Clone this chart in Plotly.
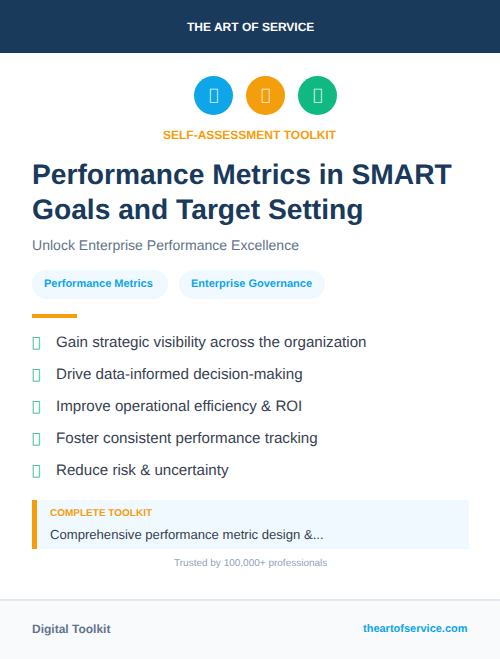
import plotly.graph_objects as go

FONT = 'Liberation Sans'
NAVY = '#1a3a5c'
SKY = '#0ea5e9'
AMBER = '#f59e0b'
GREEN = '#10b981'
SLATE = '#374151'

# texts of the card
brand = 'THE ART OF SERVICE'
kicker = 'SELF-ASSESSMENT TOOLKIT'
title_lines = ['Performance Metrics in SMART', 'Goals and Target Setting']
subtitle = 'Unlock Enterprise Performance Excellence'
tags = ['Performance Metrics', 'Enterprise Governance']
benefits = ['Gain strategic visibility across the organization',
            'Drive data-informed decision-making',
            'Improve operational efficiency & ROI',
            'Foster consistent performance tracking',
            'Reduce risk & uncertainty']
box_label = 'COMPLETE TOOLKIT'
box_text = 'Comprehensive performance metric design &...'
trusted = 'Trusted by 100,000+ professionals'
footer_left = 'Digital Toolkit'
footer_right = 'theartofservice.com'
ICON = '\uf0e4'

fig = go.Figure()
shapes = []
notes = []


def rect(x0, y0, x1, y1, color):
    shapes.append(dict(type='rect', x0=x0, y0=y0, x1=x1, y1=y1, fillcolor=color, line_width=0, layer='below'))


def pill(x0, y0, x1, y1, color):
    r = (y1 - y0) / 2
    k = r * 0.55
    path = (f'M{x0 + r},{y0} L{x1 - r},{y0} '
            f'C{x1 - r + k},{y0} {x1},{y0 + r - k} {x1},{y0 + r} '
            f'C{x1},{y0 + r + k} {x1 - r + k},{y1} {x1 - r},{y1} '
            f'L{x0 + r},{y1} '
            f'C{x0 + r - k},{y1} {x0},{y0 + r + k} {x0},{y0 + r} '
            f'C{x0},{y0 + r - k} {x0 + r - k},{y0} {x0 + r},{y0} Z')
    shapes.append(dict(type='path', path=path, fillcolor=color, line_width=0, layer='below'))


def text(x, y, s, size, color, anchor='left', bold=False, font=FONT):
    if bold:
        s = f'<b>{s}</b>'
    shift = {'left': -2, 'center': 0, 'right': 2}[anchor]
    notes.append(dict(x=x, y=y, text=s, showarrow=False, xanchor=anchor, yanchor='middle', xshift=shift,
                      font=dict(family=font, size=size, color=color)))


# header and footer
rect(0, 0, 500, 53, NAVY)
rect(0, 600, 500, 659, '#f8fafc')
rect(0, 599, 500, 601, '#e2e8f0')
text(250, 27, brand, 12, 'white', 'center', True)

# three round icons
for cx, col in zip([213.5, 265.5, 317.5], [SKY, AMBER, GREEN]):
    shapes.append(dict(type='circle', x0=cx - 19.5, y0=76, x1=cx + 19.5, y1=115, fillcolor=col, line_width=0, layer='below'))
    text(cx, 94.5, ICON, 16, 'rgba(255,255,255,0.85)', 'center', True, font='DejaVu Sans')

text(249.5, 135, kicker, 12, AMBER, 'center', True)

text(32, 173.5, title_lines[0], 28.2, NAVY, bold=True)
text(32, 208.5, title_lines[1], 28.2, NAVY, bold=True)
text(32, 245, subtitle, 14.05, '#64748b')

# tags
pill(32, 270, 168, 299, '#f0f9ff')
pill(179, 270, 325, 299, '#f0f9ff')
text(44, 283, tags[0], 11, SKY, bold=True)
text(191, 283, tags[1], 11, SKY, bold=True)

rect(32, 314, 77, 318, AMBER)

# benefits list
for y, b in zip([341, 373, 405, 437, 469], benefits):
    text(31.5, y + 0.5, ICON, 14, GREEN, bold=True, font='DejaVu Sans')
    text(56, y, b, 15.15, SLATE)

# toolkit box
rect(32, 500, 469, 549, '#f0f9ff')
rect(32, 500, 37, 549, AMBER)
text(50, 512, box_label, 10, AMBER, bold=True)
text(50, 534, box_text, 13.1, SLATE)
text(250, 562.5, trusted, 10, '#94a3b8', 'center')

text(32, 629, footer_left, 12, '#64748b', bold=True)
text(468, 628, footer_right, 11, SKY, 'right', True)

fig.update_layout(
    width=500, height=659, margin=dict(l=0, r=0, t=0, b=0),
    paper_bgcolor='white', plot_bgcolor='white', showlegend=False,
    xaxis=dict(range=[0, 500], visible=False, fixedrange=True),
    yaxis=dict(range=[659, 0], visible=False, fixedrange=True),
    shapes=shapes, annotations=notes,
)

fig.write_html('out.html', config={'displayModeBar': False},
               post_script="document.body.style.margin='0';document.body.style.textRendering='geometricPrecision';")
